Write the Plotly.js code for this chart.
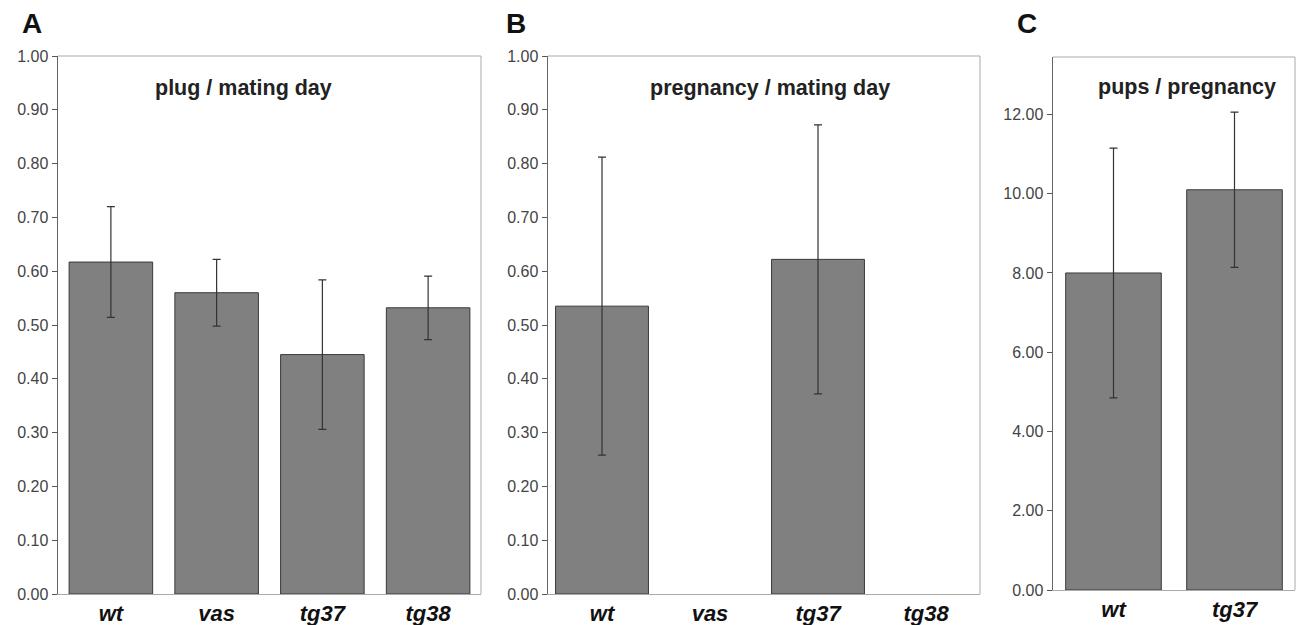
<!DOCTYPE html>
<html>
<head>
<meta charset="utf-8">
<script src="https://cdn.plot.ly/plotly-3.0.1.min.js"></script>
<style>html,body{margin:0;padding:0;background:#fff;}#chart{width:1300px;height:625px;}</style>
</head>
<body>
<div id="chart"></div>
<script>
// ---- data ----
const catsAB = ['wt', 'vas', 'tg37', 'tg38'];
const plugMean = [0.617, 0.560, 0.445, 0.532];
const plugErr = [0.103, 0.062, 0.139, 0.059];
const pregMean = [0.535, null, 0.622, null];
const pregErr = [0.277, null, 0.250, null];
const catsC = ['wt', 'tg37'];
const pupsMean = [8.0, 10.1];
const pupsErr = [3.15, 1.96];
const panelTitles = ['plug / mating day', 'pregnancy / mating day', 'pups / pregnancy'];
const panelLetters = ['A', 'B', 'C'];

// ---- layout geometry (pixels) ----
const W = 1300, H = 625;
const px = v => v / W, py = v => 1 - v / H;
const dA = {x: [px(58), px(481)], y: [py(594), py(56)]};
const dB = {x: [px(548), px(980)], y: [py(594), py(56)]};
const dC = {x: [px(1053), px(1295)], y: [py(590), py(57)]};

const barColor = '#808080';
const errStyle = arr => ({type: 'data', array: arr, visible: true, color: '#333', thickness: 1.2, width: 4});

function barTrace(x, y, err, xa, ya, w) {
  return {
    type: 'bar', x: x, y: y, xaxis: xa, yaxis: ya, width: w,
    marker: {color: barColor, line: {color: '#3a3a3a', width: 1}},
    error_y: errStyle(err), showlegend: false, hoverinfo: 'x+y'
  };
}

const data = [
  barTrace(catsAB, plugMean, plugErr, 'x', 'y', 0.79),
  barTrace(catsAB, pregMean, pregErr, 'x2', 'y2', 0.86),
  barTrace(catsC, pupsMean, pupsErr, 'x3', 'y3', 0.79)
];

const tickFont = {family: 'Arial, Liberation Sans, sans-serif', size: 16, color: '#444'};
const xFont = {family: 'Arial, Liberation Sans, sans-serif', size: 22, color: '#111', weight: 'bold', style: 'italic'};

function xAxis(dom, anchor) {
  return {domain: dom, anchor: anchor, type: 'category', showline: true, linecolor: '#aaa', linewidth: 1,
    showgrid: false, zeroline: false, ticks: '', tickfont: xFont, fixedrange: true};
}
function yAxis(dom, anchor, range, dtick) {
  return {domain: dom, anchor: anchor, range: range, dtick: dtick, tick0: 0, tickformat: '.2f',
    showline: true, linecolor: '#666', linewidth: 1.5, showgrid: false, zeroline: false,
    ticks: 'outside', ticklen: 5, tickcolor: '#555', tickwidth: 1, tickfont: tickFont, fixedrange: true};
}

function frame(d) {
  return [
    {type: 'line', xref: 'paper', yref: 'paper', x0: d.x[0], x1: d.x[1], y0: d.y[1], y1: d.y[1], line: {color: '#aaa', width: 1}},
    {type: 'line', xref: 'paper', yref: 'paper', x0: d.x[1], x1: d.x[1], y0: d.y[0], y1: d.y[1], line: {color: '#aaa', width: 1}}
  ];
}

const titleFont = {family: 'Arial, Liberation Sans, sans-serif', size: 21.5, color: '#222', weight: 'bold'};
const letterFont = {family: 'Arial, Liberation Sans, sans-serif', size: 28, color: '#111', weight: 'bold'};

const annotations = [
  {text: panelTitles[0], x: px(243), y: py(88), xref: 'paper', yref: 'paper', showarrow: false, font: titleFont, xanchor: 'center', yanchor: 'middle'},
  {text: panelTitles[1], x: px(770), y: py(88), xref: 'paper', yref: 'paper', showarrow: false, font: titleFont, xanchor: 'center', yanchor: 'middle'},
  {text: panelTitles[2], x: px(1187), y: py(87), xref: 'paper', yref: 'paper', showarrow: false, font: titleFont, xanchor: 'center', yanchor: 'middle'},
  {text: panelLetters[0], x: px(32), y: py(24), xref: 'paper', yref: 'paper', showarrow: false, font: letterFont, xanchor: 'center', yanchor: 'middle'},
  {text: panelLetters[1], x: px(516), y: py(24), xref: 'paper', yref: 'paper', showarrow: false, font: letterFont, xanchor: 'center', yanchor: 'middle'},
  {text: panelLetters[2], x: px(1027), y: py(24), xref: 'paper', yref: 'paper', showarrow: false, font: letterFont, xanchor: 'center', yanchor: 'middle'}
];

const layout = {
  width: W, height: H,
  margin: {l: 0, r: 0, t: 0, b: 0},
  paper_bgcolor: '#fff', plot_bgcolor: '#fff',
  showlegend: false,
  xaxis: xAxis(dA.x, 'y'),
  yaxis: yAxis(dA.y, 'x', [0, 1], 0.1),
  xaxis2: xAxis(dB.x, 'y2'),
  yaxis2: yAxis(dB.y, 'x2', [0, 1], 0.1),
  xaxis3: xAxis(dC.x, 'y3'),
  yaxis3: yAxis(dC.y, 'x3', [0, 13.45], 2),
  shapes: [].concat(frame(dA), frame(dB), frame(dC)),
  annotations: annotations
};

Plotly.newPlot('chart', data, layout, {displayModeBar: false, staticPlot: true});
</script>
</body>
</html>
